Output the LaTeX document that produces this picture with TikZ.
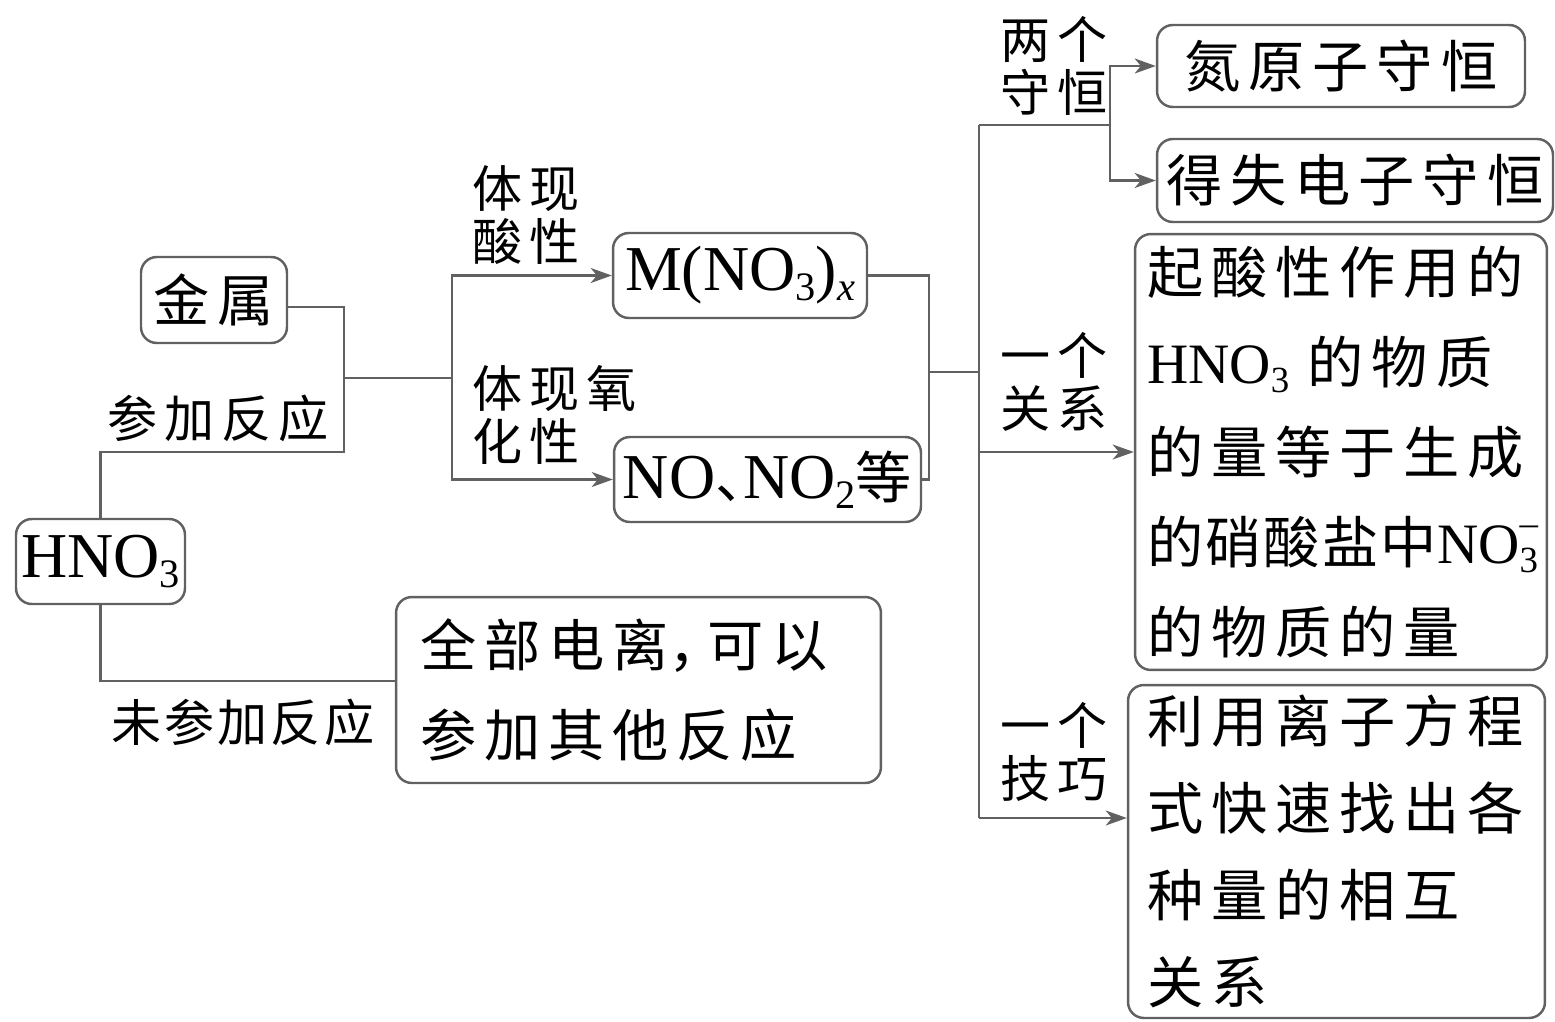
\documentclass[tikz,border=0pt]{standalone}
\usepackage{fontspec}
\setmainfont{Liberation Serif}
\newfontfamily\cjkA[LetterSpace=14]{Noto Sans CJK SC}
\newfontfamily\cjkC[LetterSpace=4]{Noto Sans CJK SC}
\newfontfamily\cjkD[LetterSpace=6]{Noto Sans CJK SC}
\usetikzlibrary{arrows.meta}
\newcommand\boxsz{\fontsize{32}{51.2}\selectfont}
\newcommand\techsz{\fontsize{32}{49.5}\selectfont}
\newcommand\lblsz{\fontsize{28.5}{30}\selectfont}
\newcommand\latbig{\rmfamily\fontsize{36.4}{40}\selectfont}
\newcommand\latmid{\rmfamily\fontsize{32.5}{51.2}\selectfont}
\newcommand\bsub[1]{\raisebox{-5.5pt}{\fontsize{23}{23}\selectfont #1}}
\newcommand\msub[1]{\raisebox{-5pt}{\fontsize{21}{21}\selectfont #1}}
\newcommand\msup[1]{\raisebox{16pt}{\fontsize{21}{21}\selectfont #1}}
\tikzset{
  box/.style={draw=black!62, line width=1.4pt, rounded corners=9pt, inner sep=0pt, text=black},
  conn/.style={draw=black!62, line width=1.4pt},
  arr/.style={conn, -{Stealth[length=12pt,width=8.5pt,inset=3.5pt]}},
  lbl/.style={inner sep=0pt, align=left, font=\cjkA\lblsz},
}
\begin{document}
\begin{tikzpicture}[x=0.02cm, y=-0.02cm]
\useasboundingbox (0,0) rectangle (1555,1021);
% boxes
\node[box, minimum width=3.38cm, minimum height=1.70cm] (hno) at (100.5,561.5) {\latbig HNO\bsub{3}};
\node[box, minimum width=2.92cm, minimum height=1.72cm, font=\cjkA\boxsz] (metal) at (214,300) {金属};
\node[box, minimum width=5.08cm, minimum height=1.70cm] (mno) at (740,275.5) {\latbig M(NO\bsub{3})\bsub{\textit{x}}};
\node[box, minimum width=6.14cm, minimum height=1.70cm] (no) at (767.5,479.5) {\latbig NO{\cjkA\boxsz\makebox[0.5em][l]{、}}NO\bsub{2}{\cjkA\boxsz 等}};
\node[box, minimum height=3.72cm, text width=8.74cm, inner xsep=0.48cm, align=left, font=\cjkA\boxsz] (ion) at (638.5,690)
  {全部电离\makebox[0.7em][l]{，}可以\\参加其他反应};
\node[box, minimum width=7.36cm, minimum height=1.64cm, font=\cjkA\boxsz] (n) at (1341,66) {氮原子守恒};
\node[box, minimum width=7.92cm, minimum height=1.66cm, font=\cjkA\boxsz] (e) at (1355,180.5) {得失电子守恒};
\node[box, minimum height=8.72cm, text width=7.76cm, inner xsep=0.24cm, align=left, font=\cjkA\boxsz] (rel) at (1341,452)
  {起酸性作用的\\
   {\latmid HNO\msub{3}} 的物质\\
   的量等于生成\\
   {\cjkC 的硝酸盐中}{\latmid NO\rlap{\msup{--}}\msub{3}}\\
   的物质的量};
\node[box, minimum height=6.66cm, text width=7.58cm, inner xsep=0.38cm, align=left, font=\cjkA\techsz] (tech) at (1336.5,851.5)
  {利用离子方程\\式快速找出各\\种量的相互\\关系};
% labels
\node[lbl] (l1) at (218,418) {参加反应};
\node[lbl, anchor=west] (l2) at (472,215) {体现\\酸性};
\node[lbl, anchor=west] (l3) at (472,415) {体现氧\\化性};
\node[lbl, anchor=west] (l4) at (1000,66) {两个\\守恒};
\node[lbl, anchor=west] (l5) at (1000,382) {一个\\关系};
\node[lbl, anchor=west] (l6) at (1000,752) {一个\\技巧};
\node[lbl, font=\cjkD\lblsz] (l7) at (243,722) {未参加反应};
% coordinates
\coordinate (m0) at (287,307);
\coordinate (ja) at (344,452);
\coordinate (j1) at (344,378);
\coordinate (j2) at (452,378);
\coordinate (jr) at (929,479.5);
\coordinate (j3) at (929,372);
\coordinate (vt) at (979,125);
\coordinate (vm) at (979,372);
\coordinate (vr) at (979,452);
\coordinate (vb) at (979,818);
\coordinate (k1) at (1110,125);
\coordinate (ib) at (100.5,681);
% connectors
\draw[conn] (m0 -| metal.east) -| (ja) -| (hno.north);
\draw[conn] (j1) -- (j2);
\draw[arr] (j2) |- (mno.west);
\draw[arr] (j2) |- (no.west);
\draw[conn] (mno.east) -| (jr) -- (no.east);
\draw[conn] (j3) -- (vm);
\draw[conn] (vt) -- (vb);
\draw[conn] (vt) -- (k1);
\draw[arr] (k1) |- (n.west);
\draw[arr] (k1) |- (e.west);
\draw[arr] (vr) -- (rel.west);
\draw[arr] (vb) -- (vb -| tech.west);
\draw[conn] (hno.south) -- (ib) -- (ib -| ion.west);
\end{tikzpicture}
\end{document}
